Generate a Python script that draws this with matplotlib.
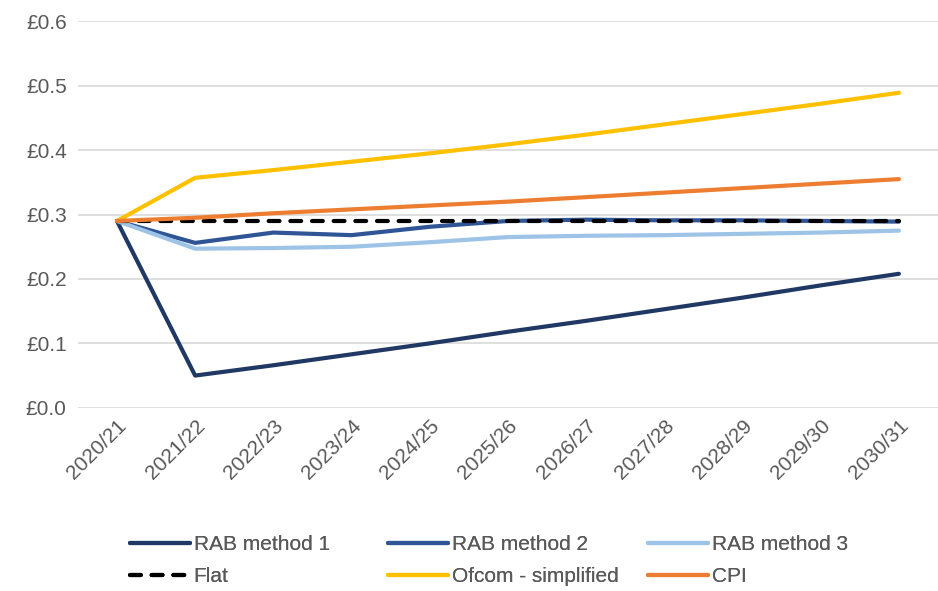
import matplotlib
matplotlib.use("Agg")
import matplotlib.pyplot as plt

years = ["2020/21", "2021/22", "2022/23", "2023/24", "2024/25", "2025/26",
         "2026/27", "2027/28", "2028/29", "2029/30", "2030/31"]

rab_method_1 = [0.290, 0.050, 0.066, 0.083, 0.100, 0.118, 0.135, 0.153, 0.171, 0.190, 0.208]
rab_method_2 = [0.290, 0.256, 0.272, 0.268, 0.281, 0.290, 0.292, 0.291, 0.291, 0.290, 0.289]
rab_method_3 = [0.290, 0.247, 0.248, 0.250, 0.257, 0.265, 0.267, 0.268, 0.270, 0.272, 0.275]
flat = [0.290] * 11
ofcom_simplified = [0.290, 0.357, 0.369, 0.382, 0.395, 0.409, 0.424, 0.440, 0.456, 0.472, 0.489]
cpi = [0.290, 0.295, 0.302, 0.308, 0.314, 0.320, 0.327, 0.334, 0.341, 0.348, 0.355]

yticks = [0.0, 0.1, 0.2, 0.3, 0.4, 0.5, 0.6]

plt.rcParams['font.family'] = ['Liberation Sans', 'DejaVu Sans']
text_col = '#595959'

fig = plt.figure(figsize=(9.38, 5.91), dpi=100)
ax = fig.add_axes([0.083, 0.310, 0.917, 0.654])

x = range(len(years))
series = [
    ("RAB method 1", rab_method_1, '#1F3864', '-'),
    ("RAB method 2", rab_method_2, '#2F5597', '-'),
    ("RAB method 3", rab_method_3, '#9DC3E6', '-'),
    ("Flat", flat, '#000000', (0, (2.6, 2.6))),
    ("Ofcom - simplified", ofcom_simplified, '#FFC000', '-'),
    ("CPI", cpi, '#ED7D31', '-'),
]
handles = []
for label, vals, col, ls in series:
    h, = ax.plot(x, vals, color=col, lw=3, linestyle=ls, label=label,
                 solid_capstyle='round', dash_capstyle='round')
    handles.append(h)

ax.set_xlim(-0.5, len(years) - 0.5)
ax.set_ylim(0, 0.6)
ax.set_yticks(yticks)
ax.set_yticklabels([f"£{v:.1f}" for v in yticks], fontsize=15, color=text_col)
ax.set_xticks(list(x))
ax.set_xticklabels(years, rotation=45, ha='right', rotation_mode='anchor',
                   fontsize=15, color=text_col)
ax.tick_params(axis='y', length=0, pad=8)
ax.tick_params(axis='x', length=0, pad=6)
ax.grid(axis='y', color='#D9D9D9', lw=1.2)
ax.set_axisbelow(True)
for s in ax.spines.values():
    s.set_visible(False)

# legend: three columns, each placed on its own
col_x = [130, 388, 648]
for i, cx in enumerate(col_x):
    lg = fig.legend(handles=[handles[i], handles[i + 3]], loc='upper left',
                    bbox_to_anchor=(cx / 938, 1 - 535 / 591), frameon=False,
                    fontsize=15, handlelength=2.9, handletextpad=0.15,
                    borderpad=0, borderaxespad=0, labelspacing=0.62)
    for t in lg.get_texts():
        t.set_color(text_col)
    fig.add_artist(lg)

fig.savefig("out.png", dpi=100)
